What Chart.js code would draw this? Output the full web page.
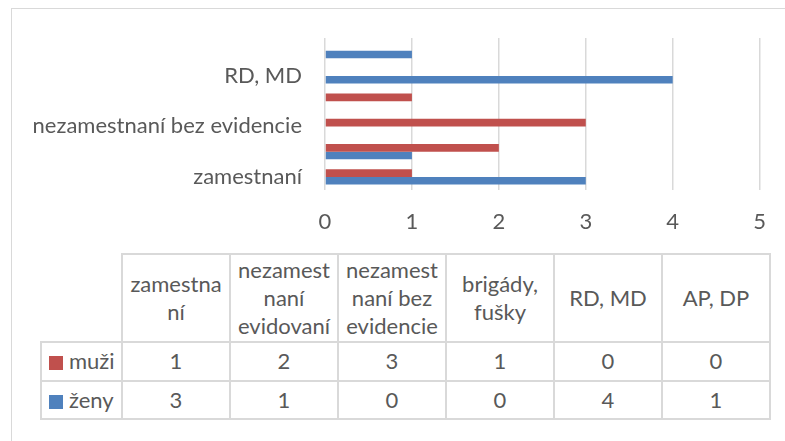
<!DOCTYPE html>
<html>
<head>
<meta charset="utf-8">
<script src="https://cdn.jsdelivr.net/npm/chart.js@4/dist/chart.umd.min.js"></script>
<style>
html,body{margin:0;padding:0;background:#fff;}
#wrap{position:relative;width:785px;height:441px;overflow:hidden;font-family:Lato,sans-serif;color:#595959;}
#frame{position:absolute;left:11px;top:8px;width:800px;height:470px;border:1px solid #d9d9d9;box-sizing:border-box;}
#cv{position:absolute;left:0;top:0;}
#tbl{position:absolute;left:40px;top:253px;border-collapse:collapse;table-layout:fixed;width:729px;font-size:22px;}
#tbl td{border:2px solid #d9d9d9;text-align:center;padding:0 3px;overflow-wrap:anywhere;line-height:28px;box-sizing:border-box;}
#tbl tr.h td{height:88px;}
#tbl tr.d td{height:38.5px;}
#tbl td.corner{border-top:none;border-left:none;}
#tbl td.leg{text-align:left;padding-left:7px;white-space:nowrap;}
.sw{display:inline-block;width:14px;height:14px;margin-right:6px;vertical-align:-1px;}
</style>
</head>
<body>
<div id="wrap">
  <div id="frame"></div>
  <canvas id="cv" width="785" height="250"></canvas>
  <table id="tbl"></table>
</div>
<script>
const categories = ["zamestnaní", "nezamestnaní evidovaní", "nezamestnaní bez evidencie", "brigády, fušky", "RD, MD", "AP, DP"];
const seriesNames = ["muži", "ženy"];
const muzi = [1, 2, 3, 1, 0, 0];
const zeny = [3, 1, 0, 0, 4, 1];
const xTickValues = [0, 1, 2, 3, 4, 5];
const seriesColors = ["#c0504d", "#4f81bd"];
const seriesData = [muzi, zeny];

const FONT = "Lato";
const TXT = "#595959";

new Chart(document.getElementById("cv"), {
  type: "bar",
  data: {
    labels: categories,
    datasets: seriesNames.map((n, i) => ({
      label: n,
      data: seriesData[i],
      backgroundColor: seriesColors[i],
      borderWidth: 0,
      barPercentage: 1,
      categoryPercentage: 0.6
    }))
  },
  options: {
    indexAxis: "y",
    responsive: false,
    animation: false,
    layout: { padding: { top: 38, right: 22, left: 0, bottom: 0 } },
    plugins: { legend: { display: false }, tooltip: { enabled: false } },
    scales: {
      y: {
        reverse: true,
        grid: { display: false, drawTicks: false },
        border: { display: false },
        ticks: {
          autoSkip: false,
          padding: 23,
          color: TXT,
          font: { family: FONT, size: 22 },
          callback: (v, i) => (i % 2 === 0 ? categories[i] : "")
        },
        afterFit: s => { s.width = 325; }
      },
      x: {
        min: xTickValues[0],
        max: xTickValues[xTickValues.length - 1],
        ticks: { stepSize: 1, padding: 19, color: TXT, font: { family: FONT, size: 22 } },
        grid: { color: "#d9d9d9", lineWidth: 1.5, drawTicks: false },
        border: { display: false },
        afterFit: s => { s.height = 60.5; }
      }
    }
  }
});

// data table
const tbl = document.getElementById("tbl");
const cg = document.createElement("colgroup");
[81].concat(categories.map(() => 108)).forEach(w => {
  const c = document.createElement("col"); c.style.width = w + "px"; cg.appendChild(c);
});
tbl.appendChild(cg);
const hr = document.createElement("tr"); hr.className = "h";
const corner = document.createElement("td"); corner.className = "corner"; hr.appendChild(corner);
categories.forEach(c => { const td = document.createElement("td"); td.textContent = c; hr.appendChild(td); });
tbl.appendChild(hr);
seriesNames.forEach((n, si) => {
  const tr = document.createElement("tr"); tr.className = "d";
  const lg = document.createElement("td"); lg.className = "leg";
  const sw = document.createElement("span"); sw.className = "sw"; sw.style.background = seriesColors[si];
  lg.appendChild(sw); lg.appendChild(document.createTextNode(n));
  tr.appendChild(lg);
  seriesData[si].forEach(v => { const td = document.createElement("td"); td.textContent = v; tr.appendChild(td); });
  tbl.appendChild(tr);
});
</script>
</body>
</html>
